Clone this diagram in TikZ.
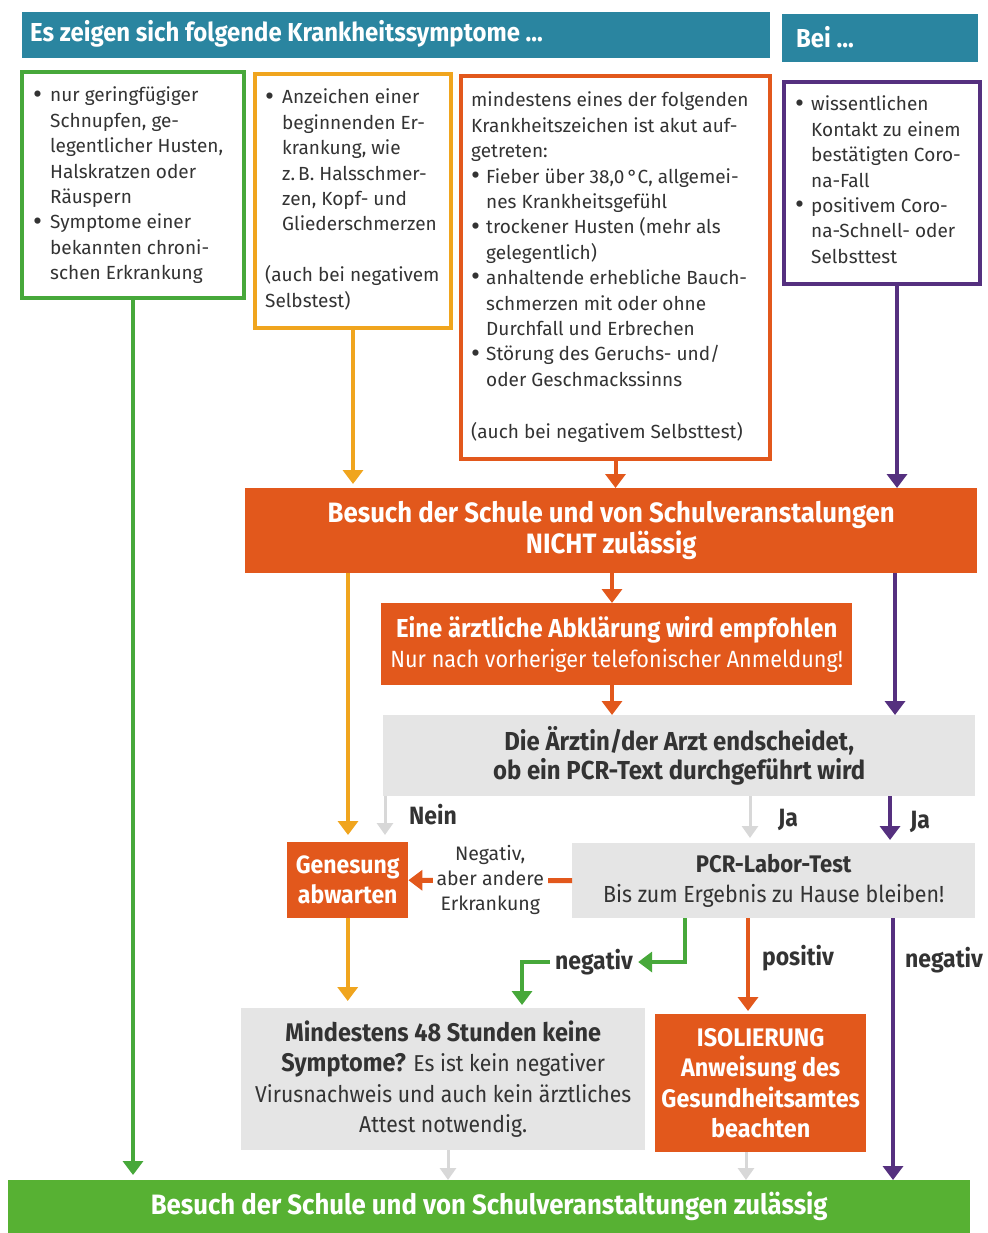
\documentclass[tikz,border=0pt]{standalone}
\usepackage{fontspec}
\setmainfont{Fira Sans}
\newfontfamily\cond[FakeStretch=0.92]{Fira Sans}
\usetikzlibrary{arrows.meta}
\definecolor{cteal}{HTML}{2A85A0}
\definecolor{cgreen}{HTML}{47A83A}
\definecolor{cbar}{HTML}{57B133}
\definecolor{camber}{HTML}{F0A51E}
\definecolor{corange}{HTML}{E2581C}
\definecolor{cpurple}{HTML}{55307F}
\definecolor{cgrey}{HTML}{E5E5E5}
\definecolor{carrowgrey}{HTML}{D8D8D8}
\definecolor{ctext}{HTML}{333333}
\newcommand\bul[1][17pt]{\makebox[#1][l]{\raisebox{-0.12ex}{\scalebox{1.45}{\textbullet}}}}
\newcommand\ind[1][17pt]{\hspace*{#1}}
\begin{document}
\begin{tikzpicture}[x=1pt,y=-1pt,
  frm/.style={draw=#1, line width=4pt, fill=white, inner sep=0pt, anchor=north west},
  blk/.style={fill=#1, inner sep=0pt, anchor=north west, align=center, text=white},
  body/.style={inner sep=0pt, anchor=north west, align=left, text=ctext, font=\fontsize{19}{25.4}\selectfont},
  arr/.style={line width=4pt, -{Triangle[width=20pt,length=14pt]}},
  garr/.style={draw=carrowgrey, line width=3pt, -{Triangle[width=16pt,length=12pt]}},
  lbl/.style={font=\cond\bfseries\fontsize{25}{25}\selectfont, text=ctext, inner sep=2pt},
  bigtxt/.style={font=\cond\bfseries\fontsize{28}{31}\selectfont}
]
\useasboundingbox (0,0) rectangle (987,1233);
% headers
\node[blk=cteal, minimum width=748pt, minimum height=46pt] (h1) at (22,12) {};
\node[anchor=base west, inner sep=0pt, text=white, font=\cond\bfseries\fontsize{26}{26}\selectfont] (h1t) at (30,42) {Es zeigen sich folgende Krankheitssymptome ...};
\node[blk=cteal, minimum width=196pt, minimum height=48pt] (h2) at (782,14) {};
\node[anchor=base west, inner sep=0pt, text=white, font=\cond\bfseries\fontsize{26}{26}\selectfont] (h2t) at (796,48) {Bei ...};
% symptom boxes
\node[frm=cgreen, minimum width=222pt, minimum height=226pt] (gbox) at (20,70) {};
\node[body] (gtxt) at (33,84) {\strut\bul nur geringfügiger\\
\ind Schnupfen, ge-\\ \ind legentlicher Husten,\\ \ind Halskratzen oder\\ \ind Räuspern\\
\bul Symptome einer\\ \ind bekannten chroni-\\ \ind schen Erkrankung};
\node[frm=camber, minimum width=196pt, minimum height=254pt] (abox) at (253,72) {};
\node[body] (atxt) at (265,86) {\strut\bul Anzeichen einer\\
\ind beginnenden Er-\\ \ind krankung, wie\\ \ind z.\,B. Halsschmer-\\ \ind zen, Kopf- und\\ \ind Gliederschmerzen\\[25.4pt]
(auch bei negativem\\ Selbstest)};
\node[frm=corange, minimum width=309pt, minimum height=383pt] (rbox) at (459,74) {};
\node[body] (rtxt) at (471,89) {\strut mindestens eines der folgenden\\
Krankheitszeichen ist akut auf-\\ getreten:\\
\bul[15pt]Fieber über 38,0\,°C, allgemei-\\ \ind[15pt]nes Krankheitsgefühl\\
\bul[15pt]trockener Husten (mehr als\\ \ind[15pt]gelegentlich)\\
\bul[15pt]anhaltende erhebliche Bauch-\\ \ind[15pt]schmerzen mit oder ohne\\ \ind[15pt]Durchfall und Erbrechen\\
\bul[15pt]Störung des Geruchs- und/\\ \ind[15pt]oder Geschmackssinns\\[26.5pt]
(auch bei negativem Selbsttest)};
\node[frm=cpurple, minimum width=196pt, minimum height=202pt] (pbox) at (782,80) {};
\node[body] (ptxt) at (795,93) {\strut\bul[16pt]wissentlichen\\
\ind[16pt]Kontakt zu einem\\ \ind[16pt]bestätigten Coro-\\ \ind[16pt]na-Fall\\
\bul[16pt]positivem Coro-\\ \ind[16pt]na-Schnell- oder\\ \ind[16pt]Selbsttest};
% flow boxes
\node[blk=corange, minimum width=732pt, minimum height=85pt, bigtxt] (nicht) at (245,488)
  {Besuch der Schule und von Schulveranstalungen\\NICHT zulässig};
\node[blk=corange, minimum width=471pt, minimum height=82pt, font=\cond\fontsize{23.5}{30}\selectfont] (eine) at (381,603)
  {{\bfseries\fontsize{26}{30}\selectfont Eine ärztliche Abklärung wird empfohlen}\\Nur nach vorheriger telefonischer Anmeldung!};
\node[blk=cgrey, text=ctext, minimum width=592pt, minimum height=81pt, font=\cond\bfseries\fontsize{26}{29.5}\selectfont] (arzt) at (383,715)
  {Die Ärztin/der Arzt endscheidet,\\ob ein PCR-Text durchgeführt wird};
\node[blk=corange, minimum width=121pt, minimum height=76pt, font=\cond\bfseries\fontsize{25}{30}\selectfont] (gen) at (287,842)
  {Genesung\\abwarten};
\node[blk=cgrey, text=ctext, minimum width=403pt, minimum height=75pt, font=\cond\fontsize{23.3}{30}\selectfont] (pcr) at (572,843)
  {{\bfseries\fontsize{24}{30}\selectfont PCR-Labor-Test}\\Bis zum Ergebnis zu Hause bleiben!};
\node[blk=cgrey, text=ctext, minimum width=404pt, minimum height=142pt, font=\cond\fontsize{23}{30.5}\selectfont] (mind) at (241,1008)
  {{\bfseries\fontsize{25.5}{30.5}\selectfont Mindestens 48 Stunden keine}\\{\bfseries\fontsize{25.5}{30.5}\selectfont Symptome?} Es ist kein negativer\\Virusnachweis und auch kein ärztliches\\Attest notwendig.};
\node[blk=corange, minimum width=211pt, minimum height=138pt, font=\cond\bfseries\fontsize{25.4}{30.5}\selectfont] (iso) at (655,1014)
  {ISOLIERUNG\\Anweisung des\\Gesundheitsamtes\\beachten};
\node[blk=cbar, minimum width=962pt, minimum height=53pt, font=\cond\bfseries\fontsize{28}{28}\selectfont] (final) at (8,1180)
  {Besuch der Schule und von Schulveranstaltungen zulässig};
% labels
\node[lbl] (nein) at (433,815) {Nein};
\node[lbl] (ja1) at (788,820) {Ja};
\node[lbl] (ja2) at (920,822) {Ja};
\node[lbl, inner sep=5pt] (negG) at (594,962) {negativ};
\node[lbl] (pos) at (798,958) {positiv};
\node[lbl] (negP) at (944,960) {negativ};
% connector coordinates
\coordinate (pA) at (897,282);
\coordinate (pB) at (895,573);
\coordinate (pC) at (890,796);
\coordinate (pD) at (893,918);
\coordinate (aB) at (348,573);
\coordinate (oA) at (612,573);
\coordinate (oB) at (612,685);
\coordinate (nA) at (385,796);
\coordinate (jA) at (750,796);
\coordinate (posA) at (748,918);
\coordinate (gA) at (685,918);
\coordinate (gB) at (522,1008);
\coordinate (mA) at (448,1150);
\coordinate (iA) at (746,1152);
% connectors
\draw[arr,cgreen,shorten >=5pt] (gbox.south) -- (gbox.south |- final.north);
\draw[arr,camber,shorten >=4pt] (abox.south) -- (abox.south |- nicht.north);
\draw[arr,corange] (rbox.south) -- (rbox.south |- nicht.north);
\draw[arr,cpurple] (pA) -- (pA |- nicht.north);
\draw[arr,camber,shorten >=7pt] (aB) -- (aB |- gen.north);
\draw[arr,corange] (oA) -- (oA |- eine.north);
\draw[arr,corange] (oB) -- (oB |- arzt.north);
\draw[arr,cpurple] (pB) -- (pB |- arzt.north);
\draw[garr,shorten >=7pt] (nA) -- (nA |- gen.north);
\draw[garr,shorten >=5pt] (jA) -- (jA |- pcr.north);
\draw[arr,cpurple,shorten >=3pt] (pC) -- (pC |- pcr.north);
\draw[arr,corange,line width=5pt] (pcr.west) -- (gen.east)
  node[midway, fill=white, inner sep=4pt, align=center, text=ctext, font=\fontsize{19.5}{25}\selectfont] (negtxt) {Negativ,\\aber andere\\Erkrankung};
\draw[arr,cgreen] (gA) |- (negG.east);
\draw[arr,cgreen,shorten >=3pt] (negG.west) -| (gB);
\draw[arr,corange,shorten >=3pt] (posA) -- (posA |- iso.north);
\draw[arr,cpurple] (pD) -- (pD |- final.north);
\draw[arr,camber,shorten >=7pt] (gen.south) -- (gen.south |- mind.north);
\draw[garr] (mA) -- (mA |- final.north);
\draw[garr] (iA) -- (iA |- final.north);
\end{tikzpicture}
\end{document}
